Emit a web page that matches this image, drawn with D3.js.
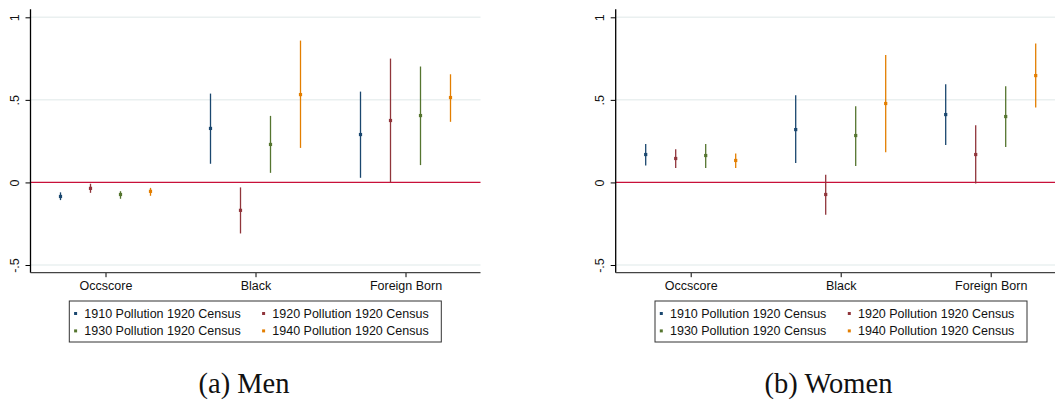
<!DOCTYPE html>
<html>
<head>
<meta charset="utf-8">
<script src="https://cdn.jsdelivr.net/npm/d3@7"></script>
<style>
  body { margin: 0; background: #fff; }
  svg { display: block; }
</style>
</head>
<body>
<svg id="chart" width="1055" height="402"></svg>
<script>
// data
const categories = ["Occscore", "Black", "Foreign Born"];
const seriesLabels = ["1910 Pollution 1920 Census", "1920 Pollution 1920 Census",
                      "1930 Pollution 1920 Census", "1940 Pollution 1920 Census"];
const seriesColors = ["#1a476f", "#90353b", "#55752f", "#e37e00"];
const yTicks = [-0.5, 0, 0.5, 1];
const yTickLabels = ["-.5", "0", ".5", "1"];

// men: rows = categories, cols = series
const menEst = [[-0.085, -0.036, -0.073, -0.054],
                [0.327, -0.169, 0.230, 0.532],
                [0.290, 0.375, 0.405, 0.514]];
const menLo = [[-0.107, -0.063, -0.099, -0.081],
               [0.113, -0.309, 0.058, 0.209],
               [0.028, 0.000, 0.105, 0.367]];
const menHi = [[-0.060, -0.008, -0.053, -0.033],
               [0.538, -0.030, 0.403, 0.859],
               [0.550, 0.750, 0.702, 0.655]];

const womenEst = [[0.169, 0.145, 0.163, 0.133],
                  [0.320, -0.073, 0.284, 0.478],
                  [0.411, 0.169, 0.399, 0.647]];
const womenLo = [[0.103, 0.088, 0.088, 0.088],
                 [0.117, -0.196, 0.100, 0.183],
                 [0.227, -0.006, 0.214, 0.454]];
const womenHi = [[0.232, 0.201, 0.232, 0.175],
                 [0.528, 0.046, 0.462, 0.772],
                 [0.595, 0.347, 0.583, 0.842]];

const offsets = [-0.3, -0.1, 0.1, 0.3];

const svg = d3.select("svg#chart");
const sansFont = "'Liberation Sans', Arial, sans-serif";

const yScale = d3.scaleLinear().domain([-0.5, 1]).range([265, 17.3]);

const drawPanel = function (left, est, lo, hi, legendX, caption, captionX) {
  const g = svg.append("g");
  const xScale = d3.scaleLinear().domain([0.5, 3.5]).range([left, left + 450]);
  const right = Math.min(left + 450, 1055);

  // gridlines
  g.append("g")
    .selectAll("line")
    .data(yTicks.filter((d) => d !== 0))
    .join("line")
    .attr("x1", left)
    .attr("x2", right)
    .attr("y1", (d) => yScale(d))
    .attr("y2", (d) => yScale(d))
    .attr("stroke", "#eaf0f0")
    .attr("stroke-width", 1.5);

  // zero line
  g.append("line")
    .attr("x1", left)
    .attr("x2", right)
    .attr("y1", yScale(0))
    .attr("y2", yScale(0))
    .attr("stroke", "#c8103a")
    .attr("stroke-width", 1.2);

  // flatten points
  let points = [];
  categories.forEach((c, i) => {
    seriesLabels.forEach((s, j) => {
      points.push({ x: i + 1 + offsets[j], est: est[i][j], lo: lo[i][j], hi: hi[i][j], color: seriesColors[j] });
    });
  });

  g.append("g")
    .selectAll("line")
    .data(points)
    .join("line")
    .attr("x1", (d) => xScale(d.x))
    .attr("x2", (d) => xScale(d.x))
    .attr("y1", (d) => yScale(d.lo))
    .attr("y2", (d) => yScale(d.hi))
    .attr("stroke", (d) => d.color)
    .attr("stroke-width", 1.3);

  g.append("g")
    .selectAll("rect")
    .data(points)
    .join("rect")
    .attr("x", (d) => xScale(d.x) - 1.6)
    .attr("y", (d) => yScale(d.est) - 1.6)
    .attr("width", 3.2)
    .attr("height", 3.2)
    .attr("fill", (d) => d.color);

  // y axis
  const yAxis = d3.axisLeft(yScale).tickValues(yTicks).tickSize(5).tickFormat((d, i) => yTickLabels[i]);
  const yG = g.append("g").attr("transform", `translate(${left},0)`).call(yAxis);
  yG.select(".domain").remove();
  yG.selectAll(".tick line").attr("stroke", "#000");
  yG.selectAll(".tick text")
    .attr("font-family", sansFont)
    .attr("font-size", "12.5px")
    .attr("fill", "#111")
    .attr("text-anchor", "middle")
    .attr("x", null)
    .attr("dy", null)
    .attr("transform", "translate(-15.5,0) rotate(-90)")
    .attr("y", 0)
    .attr("dominant-baseline", "central");
  g.append("line")
    .attr("x1", left)
    .attr("x2", left)
    .attr("y1", 9.3)
    .attr("y2", 272.7)
    .attr("stroke", "#000")
    .attr("stroke-width", 1.3);

  // x axis
  const xAxis = d3.axisBottom(xScale).tickValues([1, 2, 3]).tickSize(4.5).tickFormat((d) => categories[d - 1]);
  const xG = g.append("g").attr("transform", `translate(0,272.7)`).call(xAxis);
  xG.select(".domain").remove();
  xG.selectAll(".tick line").attr("stroke", "#000");
  xG.selectAll(".tick text")
    .attr("font-family", sansFont)
    .attr("font-size", "12.5px")
    .attr("fill", "#111")
    .attr("y", 17.5)
    .attr("dy", null);
  g.append("line")
    .attr("x1", left)
    .attr("x2", right)
    .attr("y1", 272.7)
    .attr("y2", 272.7)
    .attr("stroke", "#444")
    .attr("stroke-width", 1.3);

  // legend
  const lg = g.append("g").attr("transform", `translate(${legendX},301)`);
  lg.append("rect")
    .attr("width", 372)
    .attr("height", 41)
    .attr("fill", "#fff")
    .attr("stroke", "#333")
    .attr("stroke-width", 1);
  const items = lg.selectAll(".item")
    .data(seriesLabels)
    .join("g")
    .attr("class", "item")
    .attr("transform", (d, i) => `translate(${(i % 2) * 188},${Math.floor(i / 2) * 17.4})`);
  items.append("rect")
    .attr("x", 4.8)
    .attr("y", 11)
    .attr("width", 3)
    .attr("height", 3)
    .attr("fill", (d, i) => seriesColors[i]);
  items.append("text")
    .attr("x", 15)
    .attr("y", 16.8)
    .attr("font-family", sansFont)
    .attr("font-size", "12.5px")
    .attr("fill", "#111")
    .text((d) => d);

  // caption
  svg.append("text")
    .attr("x", captionX)
    .attr("y", 393)
    .attr("text-anchor", "middle")
    .attr("font-family", "'Liberation Serif', 'DejaVu Serif', serif")
    .attr("font-size", "28.5px")
    .attr("fill", "#111")
    .text(caption);
};

drawPanel(30.5, menEst, menLo, menHi, 69.3, "(a) Men", 244);
drawPanel(615.7, womenEst, womenLo, womenHi, 655, "(b) Women", 828.5);
</script>
</body>
</html>
